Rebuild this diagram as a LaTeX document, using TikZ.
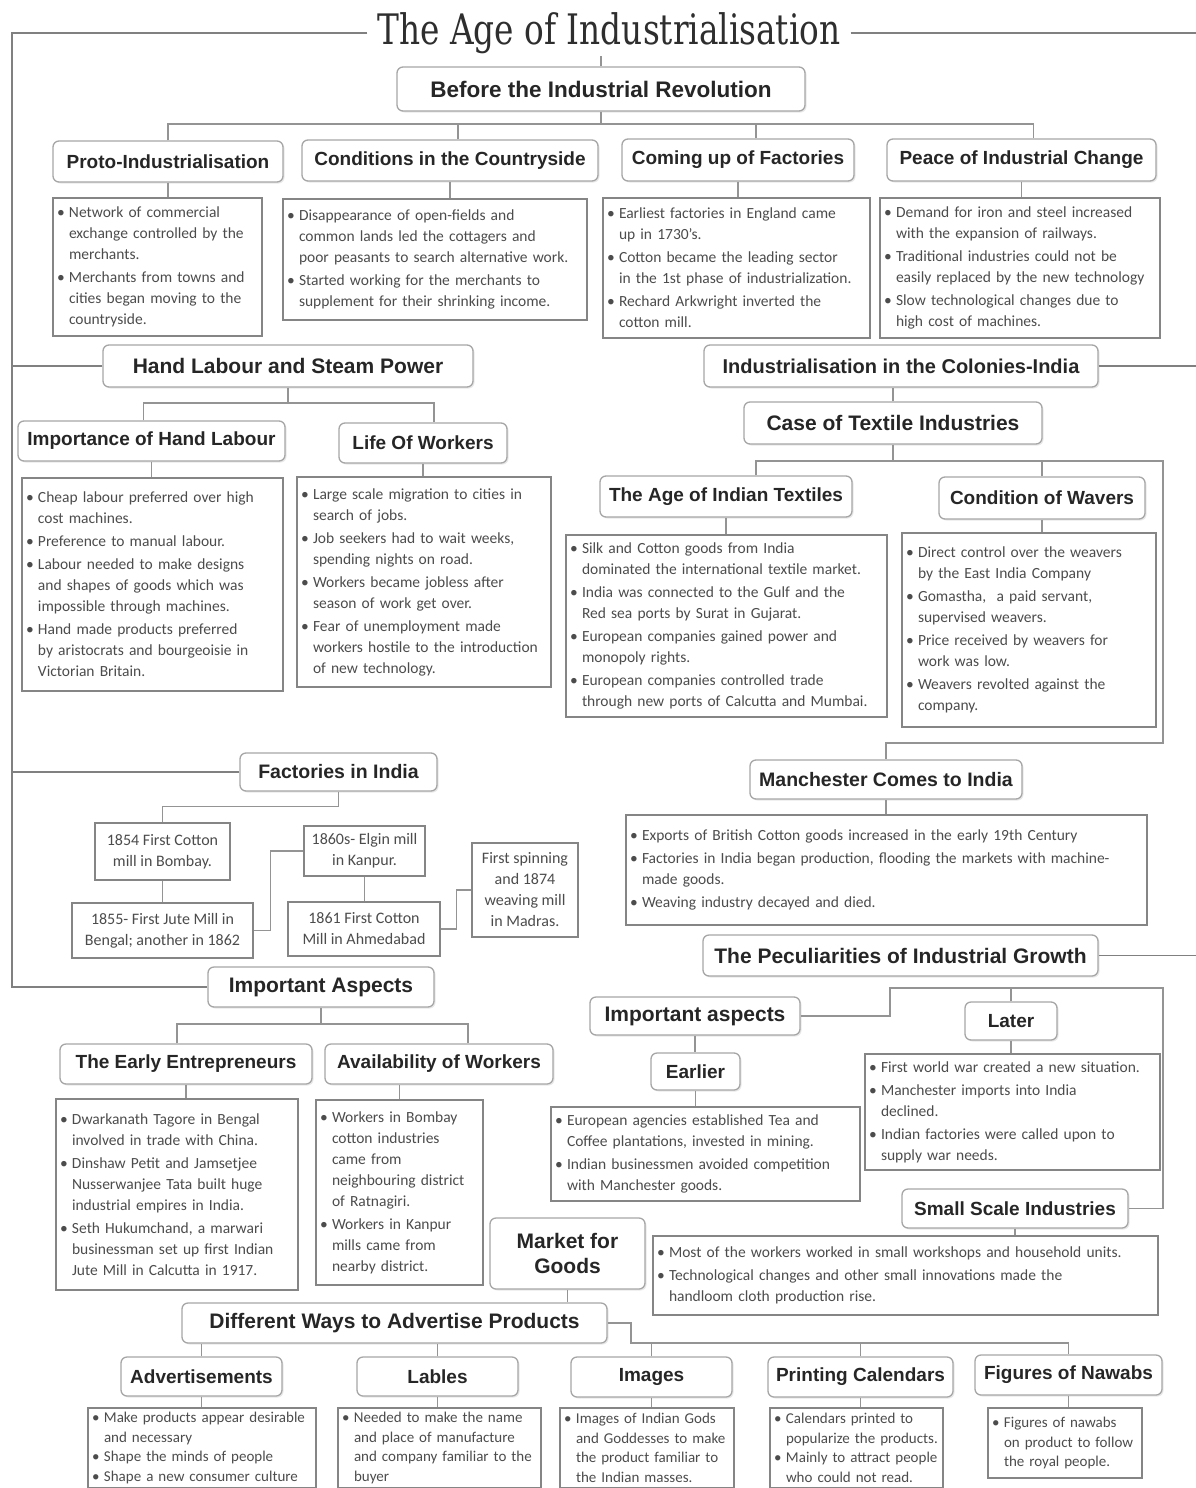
\documentclass[tikz,border=0pt]{standalone}
\usepackage{fontspec}
\setmainfont{Carlito}
\newfontfamily\hdfont{Liberation Sans}
\newfontfamily\ttlfont[FakeStretch=0.78]{DejaVu Serif}
\usetikzlibrary{shadows}
\newcommand\bul{\makebox[12pt][l]{\textbullet}}
\newcommand\cnt{\hspace*{12pt}}
\newcommand\hbx[7][]{%
  \pgfmathsetmacro\bxW{#5-#3}%
  \pgfmathsetmacro\bxH{#6-#4}%
  \pgfmathsetmacro\bxX{(#3+#5)/2}%
  \pgfmathsetmacro\bxY{(#4+#6)/2}%
  \node[#1, minimum width=\bxW pt, minimum height=\bxH pt] (#2) at (\bxX,\bxY) {#7};}
\newcommand\cbx[7][]{%
  \pgfmathsetmacro\bxW{#5-#3}%
  \pgfmathsetmacro\bxH{#6-#4}%
  \pgfmathsetmacro\bxT{#5-#3-8}%
  \pgfmathsetmacro\bxX{(#3+#5)/2}%
  \pgfmathsetmacro\bxY{(#4+#6)/2}%
  \node[cbox, minimum width=\bxW pt, minimum height=\bxH pt, text width=\bxT pt, #1] (#2) at (\bxX,\bxY) {#7};}
\tikzset{
  hfs/.style={font=\hdfont\bfseries\fontsize{#1}{25}\selectfont},
  hd/.style={draw=black!35, line width=1.3pt, rounded corners=6pt, fill=white, text=black!85, inner sep=0pt, hfs=19,
    drop shadow={opacity=0.18, shadow xshift=1.5pt, shadow yshift=-1.5pt}},
  mhd/.style={hd, hfs=21},
  cbox/.style={draw=black!48, line width=1.1pt, fill=white, text=black!70, font=\fontsize{15.5}{21}\selectfont, inner xsep=4pt, inner ysep=2pt, align=left},
  sbox/.style={draw=black!48, line width=1.1pt, fill=white, text=black!70, font=\fontsize{16}{21}\selectfont, inner sep=2pt, align=center},
  con/.style={draw=black!42, line width=1.4pt},
  spine/.style={draw=black!50, line width=1.8pt},
  bfnt/.style={font=\fontsize{15}{19.5}\selectfont}
}
\begin{document}
\begin{tikzpicture}[x=1pt,y=-1pt]
\useasboundingbox (0,0) rectangle (1196,1488);
\clip (0,0) rectangle (1196,1488);
\fill[white] (0,0) rectangle (1196,1488);

% ---------- title ----------
\node[font=\ttlfont\fontsize{42}{46}\selectfont, text=black!82, inner xsep=10pt, inner ysep=2pt] (title) at (609,33) {The Age of Industrialisation};
\coordinate (sp) at (12,33);
\coordinate (er) at (1196,33);

% ---------- before the industrial revolution ----------
\hbx[mhd,hfs=22.5]{before}{397}{67}{805}{111}{Before the Industrial Revolution}
\hbx[hd]{proto}{53}{141}{283}{182}{Proto-Industrialisation}
\hbx[hd]{cond}{302}{140}{598}{181}{Conditions in the Countryside}
\hbx[hd]{coming}{622}{139}{854}{181}{Coming up of Factories}
\hbx[hd]{peace}{887}{139}{1156}{181}{Peace of Industrial Change}

\cbx{protoC}{53}{198}{262}{336}{\bul Network of commercial\\\cnt exchange controlled by the\\\cnt merchants.\\[2pt]\bul Merchants from towns and\\\cnt cities began moving to the\\\cnt countryside.}
\cbx{condC}{283}{199}{587}{320}{\bul Disappearance of open-fields and\\\cnt common lands led the cottagers and\\\cnt poor peasants to search alternative work.\\[2pt]\bul Started working for the merchants to\\\cnt supplement for their shrinking income.}
\cbx{comingC}{603}{198}{870}{338}{\bul Earliest factories in England came\\\cnt up in 1730's.\\[2pt]\bul Cotton became the leading sector\\\cnt in the 1st phase of industrialization.\\[2pt]\bul Rechard Arkwright inverted the\\\cnt cotton mill.}
\cbx{peaceC}{880}{198}{1160}{338}{\bul Demand for iron and steel increased\\\cnt with the expansion of railways.\\[2pt]\bul Traditional industries could not be\\\cnt easily replaced by the new technology\\[2pt]\bul Slow technological changes due to\\\cnt high cost of machines.}

% ---------- hand labour ----------
\hbx[mhd]{hand}{103}{345}{473}{387}{Hand Labour and Steam Power}
\hbx[hd]{imp}{18}{421}{285}{461}{Importance of Hand Labour}
\hbx[hd]{life}{339}{423}{507}{463}{Life Of Workers}
\cbx{impC}{22}{478}{283}{691}{\bul Cheap labour preferred over high\\\cnt cost machines.\\[2pt]\bul Preference to manual labour.\\[2pt]\bul Labour needed to make designs\\\cnt and shapes of goods which was\\\cnt impossible through machines.\\[2pt]\bul Hand made products preferred\\\cnt by aristocrats and bourgeoisie in\\\cnt Victorian Britain.}
\cbx{lifeC}{297}{477}{551}{687}{\bul Large scale migration to cities in\\\cnt search of jobs.\\[2pt]\bul Job seekers had to wait weeks,\\\cnt spending nights on road.\\[2pt]\bul Workers became jobless after\\\cnt season of work get over.\\[2pt]\bul Fear of unemployment made\\\cnt workers hostile to the introduction\\\cnt of new technology.}

% ---------- colonies ----------
\hbx[mhd,hfs=20]{colon}{704}{345}{1098}{387}{Industrialisation in the Colonies-India}
\hbx[mhd]{case}{744}{402}{1042}{444}{Case of Textile Industries}
\hbx[hd]{ageT}{600}{476}{852}{517}{The Age of Indian Textiles}
\hbx[hd]{wav}{939}{477}{1145}{519}{Condition of Wavers}
\cbx{ageC}{566}{535}{887}{717}{\bul Silk and Cotton goods from India\\\cnt dominated the international textile market.\\[2pt]\bul India was connected to the Gulf and the\\\cnt Red sea ports by Surat in Gujarat.\\[2pt]\bul European companies gained power and\\\cnt monopoly rights.\\[2pt]\bul European companies controlled trade\\\cnt through new ports of Calcutta and Mumbai.}
\cbx{wavC}{902}{533}{1156}{727}{\bul Direct control over the weavers\\\cnt by the East India Company\\[2pt]\bul Gomastha, \ a paid servant,\\\cnt supervised weavers.\\[2pt]\bul Price received by weavers for\\\cnt work was low.\\[2pt]\bul Weavers revolted against the\\\cnt company.}
\hbx[mhd,hfs=19.5]{manch}{750}{760}{1022}{799}{Manchester Comes to India}
\cbx{manchC}{626}{815}{1147}{925}{\bul Exports of British Cotton goods increased in the early 19th Century\\[2pt]\bul Factories in India began production, flooding the markets with machine-\\\cnt made goods.\\[2pt]\bul Weaving industry decayed and died.}

% ---------- factories in India ----------
\hbx[mhd,hfs=19.5]{fact}{240}{753}{437}{791}{Factories in India}
\hbx[sbox]{f1854}{95}{823}{230}{880}{1854 First Cotton\\mill in Bombay.}
\hbx[sbox]{f1855}{72}{903}{253}{958}{1855- First Jute Mill in\\Bengal; another in 1862}
\hbx[sbox]{f1860}{304}{826}{425}{876}{1860s- Elgin mill\\in Kanpur.}
\hbx[sbox]{f1861}{288}{902}{440}{956}{1861 First Cotton\\Mill in Ahmedabad}
\hbx[sbox]{f1874}{472}{843}{578}{937}{First spinning\\and 1874\\weaving mill\\in Madras.}

% ---------- peculiarities ----------
\hbx[mhd]{pec}{703}{935}{1098}{976}{The Peculiarities of Industrial Growth}
\hbx[mhd]{impR}{590}{997}{800}{1035}{Important aspects}
\hbx[hd]{later}{965}{1002}{1057}{1040}{Later}
\hbx[hd]{earlier}{651}{1053}{740}{1090}{Earlier}
\cbx{laterC}{865}{1054}{1160}{1170}{\bul First world war created a new situation.\\[2pt]\bul Manchester imports into India\\\cnt declined.\\[2pt]\bul Indian factories were called upon to\\\cnt supply war needs.}
\cbx{earlierC}{551}{1107}{860}{1201}{\bul European agencies established Tea and\\\cnt Coffee plantations, invested in mining.\\[2pt]\bul Indian businessmen avoided competition\\\cnt with Manchester goods.}
\hbx[hd]{ssi}{902}{1189}{1128}{1228}{Small Scale Industries}
\cbx{ssiC}{653}{1236}{1158}{1315}{\bul Most of the workers worked in small workshops and household units.\\[2pt]\bul Technological changes and other small innovations made the\\\cnt handloom cloth production rise.}

% ---------- important aspects (left) ----------
\hbx[mhd]{impL}{208}{967}{434}{1007}{Important Aspects}
\hbx[hd]{early}{60}{1044}{312}{1084}{The Early Entrepreneurs}
\hbx[hd]{avail}{325}{1044}{553}{1084}{Availability of Workers}
\cbx{earlyC}{56}{1099}{298}{1290}{\bul Dwarkanath Tagore in Bengal\\\cnt involved in trade with China.\\[2pt]\bul Dinshaw Petit and Jamsetjee\\\cnt Nusserwanjee Tata built huge\\\cnt industrial empires in India.\\[2pt]\bul Seth Hukumchand, a marwari\\\cnt businessman set up first Indian\\\cnt Jute Mill in Calcutta in 1917.}
\cbx{availC}{316}{1100}{483}{1285}{\bul Workers in Bombay\\\cnt cotton industries\\\cnt came from\\\cnt neighbouring district\\\cnt of Ratnagiri.\\[2pt]\bul Workers in Kanpur\\\cnt mills came from\\\cnt nearby district.}

% ---------- market / advertising ----------
\hbx[mhd,align=center,hfs=21]{market}{490}{1218}{645}{1289}{Market for\\Goods}
\hbx[mhd]{diff}{182}{1303}{607}{1343}{Different Ways to Advertise Products}
\hbx[hd]{adv}{121}{1357}{282}{1396}{Advertisements}
\hbx[hd]{lab}{357}{1357}{518}{1396}{Lables}
\hbx[hd]{img}{571}{1357}{732}{1397}{Images}
\hbx[hd]{cal}{768}{1357}{953}{1397}{Printing Calendars}
\hbx[hd]{naw}{975}{1355}{1162}{1395}{Figures of Nawabs}
\cbx[bfnt]{advC}{88}{1408}{316}{1488}{\bul Make products appear desirable\\\cnt and necessary\\\bul Shape the minds of people\\\bul Shape a new consumer culture}
\cbx[bfnt]{labC}{338}{1408}{541}{1488}{\bul Needed to make the name\\\cnt and place of manufacture\\\cnt and company familiar to the\\\cnt buyer}
\cbx[bfnt]{imgC}{560}{1408}{734}{1488}{\bul Images of Indian Gods\\\cnt and Goddesses to make\\\cnt the product familiar to\\\cnt the Indian masses.}
\cbx[bfnt]{calC}{770}{1408}{943}{1488}{\bul Calendars printed to\\\cnt popularize the products.\\\bul Mainly to attract people\\\cnt who could not read.}
\cbx[bfnt]{nawC}{988}{1408}{1142}{1478}{\bul Figures of nawabs\\\cnt on product to follow\\\cnt the royal people.}

% ================= connectors =================
% spines
\draw[spine] (title.west) -- (title.west -| sp) |- (impL.west);
\draw[spine] (hand.west) -- (hand.west -| sp);
\draw[spine] (fact.west) -- (fact.west -| sp);
\draw[spine] (title.east) -- (title.east -| er);
\draw[spine] (colon.east) -- (colon.east -| er);
\draw[spine] (pec.east) -- (pec.east -| er);

% before
\draw[con] (before.north) -- (before.north |- title.south);
\coordinate (busA) at (601,124);
\coordinate (dCond) at ([xshift=8pt]cond.north);
\coordinate (dComing) at ([xshift=18pt]coming.north);
\coordinate (dPeace) at ([xshift=12pt]peace.north);
\draw[con] (before.south) -- (busA);
\draw[con] (proto.north) -- (proto.north |- busA) -- (dPeace |- busA) -- (dPeace);
\draw[con] (dCond) -- (dCond |- busA);
\draw[con] (dComing) -- (dComing |- busA);
\draw[con] (proto.south) -- (proto.south |- protoC.north);
\draw[con] (cond.south) -- (cond.south |- condC.north);
\draw[con] (coming.south) -- (coming.south |- comingC.north);
\draw[con] (peace.south) -- (peace.south |- peaceC.north);

% hand labour
\coordinate (busB) at (288,403);
\coordinate (dImp) at ([xshift=-8pt]imp.north);
\coordinate (dLife) at ([xshift=11pt]life.north);
\draw[con] (hand.south) -- (hand.south |- busB);
\draw[con] (dImp) -- (dImp |- busB) -- (dLife |- busB) -- (dLife);
\draw[con] (imp.south) -- (imp.south |- impC.north);
\draw[con] (life.south) -- (life.south |- lifeC.north);

% colonies
\draw[con] (case.north) -- (case.north |- colon.south);
\coordinate (busC) at (893,461);
\coordinate (dAge) at ([xshift=30pt]ageT.north);
\coordinate (rC) at (1163,461);
\coordinate (rD) at (1163,743);
\draw[con] (case.south) -- (busC);
\draw[con] (dAge) -- (dAge |- busC) -- (rC) -- (rD) -| (manch.north);
\draw[con] (wav.north) -- (wav.north |- busC);
\draw[con] (ageT.south) -- (ageT.south |- ageC.north);
\draw[con] (wav.south) -- (wav.south |- wavC.north);
\draw[con] (manch.south) -- (manch.south |- manchC.north);

% factories
\draw[con] (fact.south) -- ++(0,15) -| (f1854.north);
\draw[con] (f1854.south) -- (f1854.south |- f1855.north);
\draw[con] (f1855.east) -- ++(17,0) |- (f1860.west);
\draw[con] (f1860.south) -- (f1860.south |- f1861.north);
\draw[con] (f1861.east) -- ++(16,0) |- (f1874.west);

% important aspects (left)
\coordinate (busD) at (321,1024);
\coordinate (dEarly) at ([xshift=-9pt]early.north);
\coordinate (dAvail) at ([xshift=29pt]avail.north);
\draw[con] (impL.south) -- (impL.south |- busD);
\draw[con] (dEarly) -- (dEarly |- busD) -- (dAvail |- busD) -- (dAvail);
\draw[con] (early.south) -- (early.south |- earlyC.north);
\draw[con] (availC.north) -- (availC.north |- avail.south);

% peculiarities cluster
\coordinate (kA) at (890,988);
\coordinate (kB) at (1163,988);
\draw[con] (impR.east) -| (kA) -- (kB) |- (ssi.east);
\draw[con] (later.north) -- (later.north |- kA);
\draw[con] (impR.south) -- (impR.south |- earlier.north);
\draw[con] (earlier.south) -- (earlier.south |- earlierC.north);
\draw[con] (later.south) -- (later.south |- laterC.north);
\draw[con] (ssi.south) -- (ssi.south |- ssiC.north);

% market / advertising
\draw[con] (market.south) -- (market.south |- diff.north);
\coordinate (busE) at (631,1343);
\draw[con] (adv.north) -- (adv.north |- diff.south);
\draw[con] (lab.north) -- (lab.north |- diff.south);
\draw[con] (diff.east) -| (busE) -- (naw.north |- busE) -- (naw.north);
\draw[con] (img.north) -- (img.north |- busE);
\draw[con] (cal.north) -- (cal.north |- busE);
\draw[con] (adv.south) -- (adv.south |- advC.north);
\draw[con] (lab.south) -- (lab.south |- labC.north);
\draw[con] (img.south) -- (img.south |- imgC.north);
\draw[con] (cal.south) -- (cal.south |- calC.north);
\draw[con] (naw.south) -- (naw.south |- nawC.north);
\end{tikzpicture}
\end{document}
